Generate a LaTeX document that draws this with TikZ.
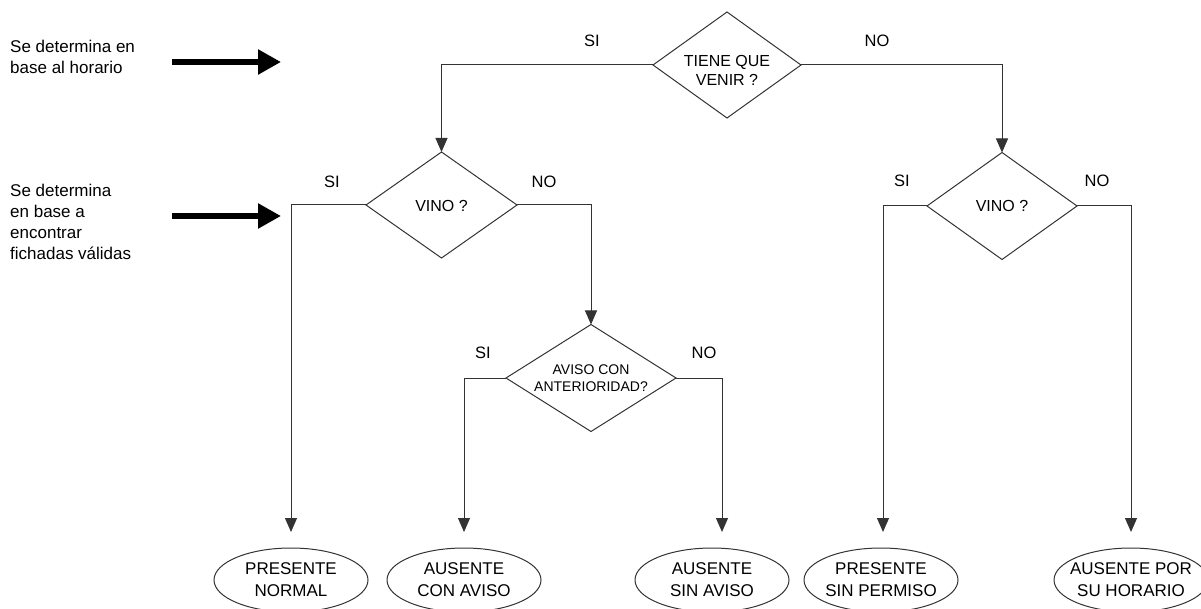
\documentclass[tikz,border=0pt]{standalone}
\usepackage{fontspec}
\setmainfont{Liberation Sans}
\usetikzlibrary{shapes.geometric,arrows.meta}
\definecolor{ln}{HTML}{333333}
\begin{document}
\begin{tikzpicture}[x=1pt,y=-1pt,
  dec/.style={diamond,draw=ln,line width=1pt,inner sep=0pt,outer sep=0pt},
  term/.style={ellipse,draw=ln,line width=1pt,minimum width=154pt,minimum height=64pt,inner sep=0pt,outer sep=0pt},
  conn/.style={draw=ln,line width=1pt,-{Triangle[length=14pt,width=12pt]}},
  bigarrow/.style={draw=black,line width=5.5pt,-{Triangle[length=23pt,width=24pt]}},
  lab/.style={font=\fontsize{16.5pt}{19pt}\selectfont,inner sep=0pt},
  dtext/.style={font=\fontsize{16pt}{19pt}\selectfont,align=center,inner sep=0pt},
  stext/.style={font=\fontsize{14pt}{17pt}\selectfont,align=center,inner sep=0pt},
  ttext/.style={font=\fontsize{17pt}{22pt}\selectfont,align=center,inner sep=0pt},
  ltext/.style={font=\fontsize{17pt}{21pt}\selectfont,align=left,inner sep=0pt,anchor=west}]
\useasboundingbox (0,0) rectangle (1201,609);

% left notes
\node[ltext] (n1) at (10,57) {Se determina en\\base al horario};
\node[ltext] (n2) at (10,222) {Se determina\\en base a\\encontrar\\fichadas válidas};
\coordinate (a1s) at (172,62);
\coordinate (a1e) at (281,62);
\coordinate (a2s) at (172,216);
\coordinate (a2e) at (281,216);
\draw[bigarrow] (a1s) -- (a1e);
\draw[bigarrow] (a2s) -- (a2e);

% decisions
\node[dec,minimum width=148pt,minimum height=106pt] (d1) at (727,65) {};
\node[dtext] (d1t) at (727,70) {TIENE QUE\\VENIR ?};
\node[dec,minimum width=151pt,minimum height=106pt] (v1) at (441.5,205) {};
\node[dtext] (v1t) at (441.5,206) {VINO ?};
\node[dec,minimum width=170pt,minimum height=107pt] (av) at (591,378) {};
\node[stext] (avt) at (591,378.5) {AVISO CON\\ANTERIORIDAD?};
\node[dec,minimum width=150pt,minimum height=107pt] (v2) at (1002,206) {};
\node[dtext] (v2t) at (1002,206) {VINO ?};

% terminals
\node[term] (pn) at (291,580) {};
\node[ttext] (pnt) at (291,580) {PRESENTE\\NORMAL};
\node[term] (ac) at (464,580) {};
\node[ttext] (act) at (464,580) {AUSENTE\\CON AVISO};
\node[term] (as) at (712,580) {};
\node[ttext] (ast) at (712,580) {AUSENTE\\SIN AVISO};
\node[term] (ps) at (881,580) {};
\node[ttext] (pst) at (881,580) {PRESENTE\\SIN PERMISO};
\node[term] (ah) at (1131,580) {};
\node[ttext] (aht) at (1131,580) {AUSENTE POR\\SU HORARIO};

% labels
\node[lab] (l1) at (592,41) {SI};
\node[lab] (l2) at (877,41) {NO};
\node[lab] (l3) at (332,182) {SI};
\node[lab] (l4) at (544,182) {NO};
\node[lab] (l5) at (483,353) {SI};
\node[lab] (l6) at (704,353) {NO};
\node[lab] (l7) at (902,181) {SI};
\node[lab] (l8) at (1097,181) {NO};

% connectors
\draw[conn] (d1.west) -| (v1.north);
\draw[conn] (d1.east) -| (v2.north);
\draw[conn] (v1.west) -| ([yshift=16pt]pn.north);
\draw[conn] (v1.east) -| (av.north);
\draw[conn] (av.west) -| ([yshift=16pt]ac.north);
\draw[conn] (av.east) -| ([xshift=10pt,yshift=16pt]as.north);
\draw[conn] (v2.west) -| ([xshift=2pt,yshift=16pt]ps.north);
\draw[conn] (v2.east) -| ([yshift=16pt]ah.north);
\end{tikzpicture}
\end{document}
